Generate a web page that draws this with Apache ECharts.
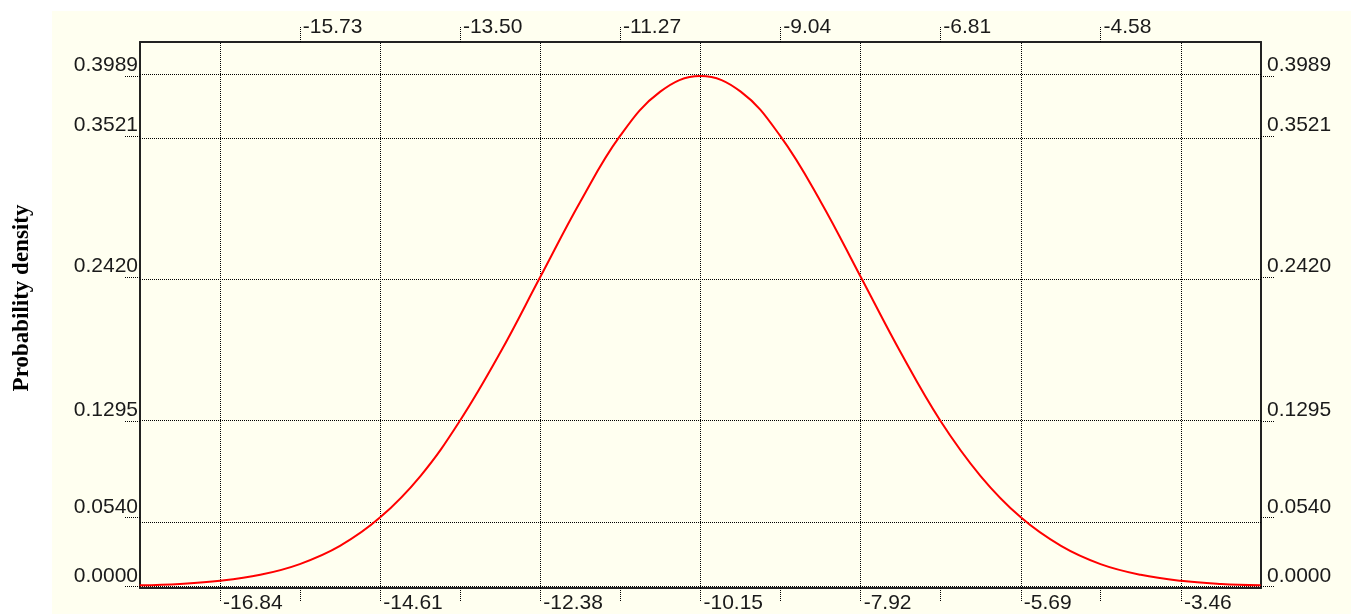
<!DOCTYPE html>
<html>
<head>
<meta charset="utf-8">
<title>Probability density</title>
<script src="https://cdn.jsdelivr.net/npm/echarts@6/dist/echarts.min.js"></script>
<style>
  html, body { margin: 0; padding: 0; background: #fff; }
  #chart { width: 1351px; height: 614px; }
</style>
</head>
<body>
<div id="chart"></div>
<script>
// x positions of the curve samples (quarter sigma steps) and densities
const curveX = [-17.96, -17.40, -16.84, -16.28, -15.73, -15.17, -14.61, -14.05, -13.50, -12.94,
  -12.38, -11.82, -11.27, -10.71, -10.15, -9.59, -9.04, -8.48, -7.92, -7.36,
  -6.81, -6.25, -5.69, -5.13, -4.58, -4.02, -3.46, -2.90, -2.35]
const curveY = [0.0009, 0.0020, 0.0044, 0.0091, 0.0175, 0.0317, 0.0540, 0.0863, 0.1295, 0.1826,
  0.2420, 0.3011, 0.3521, 0.3867, 0.3989, 0.3867, 0.3521, 0.3011, 0.2420, 0.1826,
  0.1295, 0.0863, 0.0540, 0.0317, 0.0175, 0.0091, 0.0044, 0.0020, 0.0009]

// tick labels
const bottomTicks = [-16.84, -14.61, -12.38, -10.15, -7.92, -5.69, -3.46]
const topTicks = [-15.73, -13.50, -11.27, -9.04, -6.81, -4.58]
const yTicks = [0.0000, 0.0540, 0.1295, 0.2420, 0.3521, 0.3989]

const xMin = -17.955
const xMax = -2.345
const yMin = -0.0012
const yMax = 0.4255

const chart = echarts.init(document.getElementById('chart'))

const labelFont = {
  fontFamily: 'Liberation Sans',
  fontSize: 21,
  color: '#1a1a1a'
}
const dotted = { color: '#000', width: 1, type: [1, 1] }
const frame = { color: '#222', width: 2 }

const option = {
  animation: false,
  graphic: [
    {
      type: 'rect',
      left: 52,
      top: 11,
      z: -10,
      shape: { width: 1299, height: 603 },
      style: { fill: '#FFFFF0' }
    },
    {
      type: 'text',
      x: 22,
      y: 298,
      rotation: Math.PI / 2,
      style: {
        text: 'Probability density',
        fontFamily: 'Liberation Serif',
        fontWeight: 'bold',
        fontSize: 23,
        fill: '#000',
        align: 'center',
        verticalAlign: 'middle'
      }
    }
  ],
  grid: { left: 140, top: 42, right: 90, bottom: 26 },
  xAxis: [
    {
      type: 'value',
      position: 'bottom',
      min: xMin,
      max: xMax,
      axisLine: { show: true, onZero: false, lineStyle: frame },
      axisTick: {
        show: true,
        length: 13,
        customValues: bottomTicks.concat(topTicks),
        lineStyle: dotted
      },
      axisLabel: {
        ...labelFont,
        customValues: bottomTicks,
        align: 'left',
        margin: 5,
        padding: [0, 0, 0, 3],
        formatter: v => v.toFixed(2)
      },
      splitLine: { show: false }
    },
    {
      type: 'value',
      position: 'top',
      min: xMin,
      max: xMax,
      axisLine: { show: true, onZero: false, lineStyle: frame },
      axisTick: {
        show: true,
        length: 15,
        customValues: topTicks,
        lineStyle: dotted
      },
      axisLabel: {
        ...labelFont,
        customValues: topTicks,
        align: 'left',
        margin: 4,
        padding: [0, 0, 0, 3],
        formatter: v => v.toFixed(2)
      },
      splitLine: { show: false }
    }
  ],
  yAxis: [
    {
      type: 'value',
      position: 'left',
      min: yMin,
      max: yMax,
      axisLine: { show: true, onZero: false, lineStyle: frame },
      axisTick: {
        show: true,
        length: 16,
        customValues: yTicks,
        lineStyle: dotted
      },
      axisLabel: {
        ...labelFont,
        customValues: yTicks,
        margin: 2,
        verticalAlign: 'bottom',
        formatter: v => v.toFixed(4)
      },
      splitLine: { show: false }
    },
    {
      type: 'value',
      position: 'right',
      min: yMin,
      max: yMax,
      axisLine: { show: true, onZero: false, lineStyle: frame },
      axisTick: {
        show: true,
        length: 14,
        customValues: yTicks,
        lineStyle: dotted
      },
      axisLabel: {
        ...labelFont,
        customValues: yTicks,
        margin: 6,
        verticalAlign: 'bottom',
        formatter: v => v.toFixed(4)
      },
      splitLine: { show: false }
    }
  ],
  series: [
    {
      type: 'line',
      xAxisIndex: 0,
      yAxisIndex: 0,
      data: curveX.map((x, i) => [x, curveY[i]]),
      smooth: 0.4,
      showSymbol: false,
      lineStyle: { color: '#ff0000', width: 2 },
      markLine: {
        silent: true,
        symbol: 'none',
        label: { show: false },
        lineStyle: dotted,
        emphasis: { disabled: true },
        data: bottomTicks.map(v => ({ xAxis: v }))
          .concat(yTicks.map(v => ({ yAxis: v })))
      },
      z: 5
    }
  ]
}

chart.setOption(option)
</script>
</body>
</html>
